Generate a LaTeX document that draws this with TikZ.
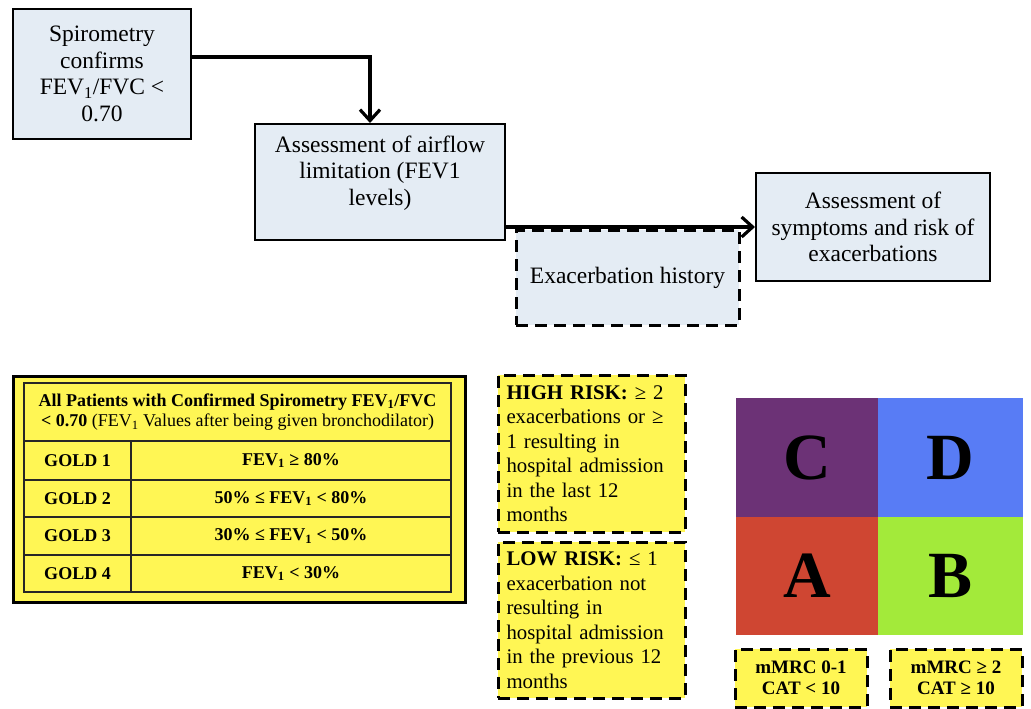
\documentclass[tikz,border=0pt]{standalone}
\usepackage{fontspec}
\setmainfont{Liberation Serif}
\usetikzlibrary{arrows.meta}
\definecolor{boxblue}{RGB}{228,236,244}
\definecolor{ylw}{RGB}{255,246,84}
\definecolor{cpurple}{RGB}{108,50,118}
\definecolor{dblue}{RGB}{88,124,245}
\definecolor{ared}{RGB}{207,70,50}
\definecolor{bgreen}{RGB}{163,234,58}
\tikzset{
  flowbox/.style={draw=black, line width=2pt, fill=boxblue, inner sep=0pt, align=center,
    font=\fontsize{23.5}{26.5}\selectfont},
  dashbox/.style={draw=black, line width=3pt, dash pattern=on 12pt off 7pt, inner sep=0pt},
  txt/.style={inner sep=0pt, align=center, font=\fontsize{23.5}{26.5}\selectfont},
  cell/.style={draw=black!85, line width=1.3pt, fill=ylw, inner sep=0pt, align=center,
    font=\fontsize{18}{20.5}\selectfont\bfseries},
  riskbox/.style={dashbox, fill=ylw, align=left, text width=170pt,
    font=\fontsize{20.8}{24.5}\selectfont},
  quad/.style={draw=none, inner sep=0pt, font=\fontsize{66}{70}\selectfont\bfseries},
  mmrc/.style={dashbox, fill=ylw, align=center, font=\fontsize{19}{20.5}\selectfont\bfseries},
  conn/.style={line width=3.2pt, -{Straight Barb[length=11pt,width=20pt,line width=3.2pt]}}
}
\begin{document}
\begin{tikzpicture}[x=1pt,y=-1pt]
\useasboundingbox (0,0) rectangle (1031,709);
\fill[white] (0,0) rectangle (1031,709);

% top flow
\node[flowbox, minimum width=178pt, minimum height=130pt] (b1) at (102,74)
  {Spirometry\\confirms\\FEV\textsubscript{1}/FVC <\\0.70};
\node[flowbox, minimum width=250pt, minimum height=116pt] (b2) at (380,182) {};
\node[txt] (b2t) at (380,173) {Assessment of airflow\\limitation (FEV1\\levels)};
\node[flowbox, minimum width=234pt, minimum height=108pt] (b3) at (873,227)
  {Assessment of\\symptoms and risk of\\exacerbations};
\node[dashbox, fill=boxblue, minimum width=223pt, minimum height=95pt, txt] (ex) at (627.5,277.5)
  {Exacerbation history};

\draw[conn] ([yshift=17pt]b1.east) -| ([xshift=-10pt]b2.north);
\draw[conn] ([yshift=-45pt]b2.east) -- (b3.west);

% table
\node[draw=black, line width=3pt, fill=ylw, minimum width=452pt, minimum height=226pt, inner sep=0pt] (tbl) at (239,489) {};
\node[cell, minimum width=427pt, minimum height=58pt] (hdr) at (237.5,412)
  {\textbf{All Patients with Confirmed Spirometry FEV\textsubscript{1}/FVC}\\
   \mdseries\textbf{< 0.70} (FEV\textsubscript{1} Values after being given bronchodilator)};
\node[cell, minimum width=107pt, minimum height=39pt] (g1) at (77.5,460.5) {GOLD 1};
\node[cell, minimum width=320pt, minimum height=39pt] (v1) at (291,460.5) {FEV\textsubscript{1} ≥ 80\%};
\node[cell, minimum width=107pt, minimum height=37pt] (g2) at (77.5,498.5) {GOLD 2};
\node[cell, minimum width=320pt, minimum height=37pt] (v2) at (291,498.5) {50\% ≤ FEV\textsubscript{1} < 80\%};
\node[cell, minimum width=107pt, minimum height=38pt] (g3) at (77.5,536) {GOLD 3};
\node[cell, minimum width=320pt, minimum height=38pt] (v3) at (291,536) {30\% ≤ FEV\textsubscript{1} < 50\%};
\node[cell, minimum width=107pt, minimum height=37pt] (g4) at (77.5,573.5) {GOLD 4};
\node[cell, minimum width=320pt, minimum height=37pt] (v4) at (291,573.5) {FEV\textsubscript{1} < 30\%};

% risk boxes
\node[riskbox, minimum width=187pt, minimum height=157pt] (hi) at (591.5,453.5)
  {\textbf{HIGH RISK:} ≥ 2\\exacerbations or ≥\\1 resulting in\\hospital admission\\in the last 12\\months};
\node[riskbox, minimum width=187pt, minimum height=156pt] (lo) at (591.5,620)
  {\textbf{LOW RISK:} ≤ 1\\exacerbation not\\resulting in\\hospital admission\\in the previous 12\\months};

% quadrant grid
\node[quad, fill=cpurple, minimum width=142pt, minimum height=119pt] (qc) at (807,457.5) {C};
\node[quad, fill=dblue, minimum width=145pt, minimum height=119pt] (qd) at (950.5,457.5) {D};
\node[quad, fill=ared, minimum width=142pt, minimum height=118pt] (qa) at (807,576) {A};
\node[quad, fill=bgreen, minimum width=145pt, minimum height=118pt] (qb) at (950.5,576) {B};

\node[mmrc, minimum width=132pt, minimum height=58pt] (m1) at (801,678) {mMRC 0-1\\CAT < 10};
\node[mmrc, minimum width=132pt, minimum height=58pt] (m2) at (956,678) {mMRC ≥ 2\\CAT ≥ 10};
\end{tikzpicture}
\end{document}
